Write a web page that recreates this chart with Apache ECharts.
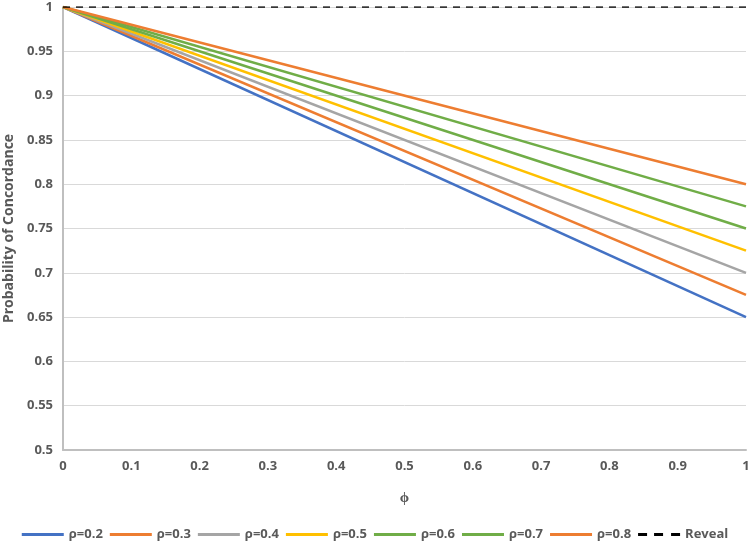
<!DOCTYPE html>
<html><head><meta charset="utf-8">
<script src="https://cdn.jsdelivr.net/npm/echarts@6/dist/echarts.min.js"></script>
<style>html,body{margin:0;padding:0;background:#fff}#c{width:750px;height:546px}</style>
</head><body><div id="c"></div>
<script>
const phi = [0, 1];
const names = ['ρ=0.2','ρ=0.3','ρ=0.4','ρ=0.5','ρ=0.6','ρ=0.7','ρ=0.8','Reveal'];
const values = [
  [1, 0.65],
  [1, 0.675],
  [1, 0.70],
  [1, 0.725],
  [1, 0.75],
  [1, 0.775],
  [1, 0.80],
  [1, 1]
];
const colors = ['#4472C4','#ED7D31','#A5A5A5','#FFC000','#70AD47','#70AD47','#ED7D31','#000000'];

const font = 'Open Sans';
const chart = echarts.init(document.getElementById('c'));
chart.setOption({
  animation: false,
  color: colors,
  grid: {left: 63, right: 4, top: 7, bottom: 96, containLabel: false, outerBoundsMode: 'none'},
  xAxis: {
    type: 'value', min: 0, max: 1, interval: 0.1,
    name: 'ϕ', nameLocation: 'middle', nameGap: 40,
    nameTextStyle: {color: '#595959', fontSize: 15, fontWeight: 'bold', fontFamily: font},
    axisLine: {show: true, lineStyle: {color: '#BFBFBF', width: 2}},
    axisTick: {show: false},
    splitLine: {show: false},
    axisLabel: {color: '#595959', fontSize: 13, fontWeight: 'bold', fontFamily: font, margin: 10,
      formatter: v => String(Math.round(v*10)/10)}
  },
  yAxis: {
    type: 'value', min: 0.5, max: 1, interval: 0.05,
    name: 'Probability of Concordance', nameLocation: 'middle', nameGap: 46,
    nameTextStyle: {color: '#595959', fontSize: 14, fontWeight: 'bold', fontFamily: font},
    axisLine: {show: true, lineStyle: {color: '#BFBFBF', width: 2}},
    axisTick: {show: false},
    splitLine: {show: true, lineStyle: {color: '#D9D9D9', width: 1}},
    axisLabel: {color: '#595959', fontSize: 13, fontWeight: 'bold', fontFamily: font, margin: 10,
      formatter: v => String(Math.round(v*100)/100)}
  },
  legend: {
    bottom: 0, left: 'center', itemWidth: 42, itemHeight: 3, itemGap: 7,
    textStyle: {color: '#595959', fontSize: 13, fontWeight: 'bold', fontFamily: font},
    data: names.map((n, i) => ({
      name: n,
      icon: i === 7 ? 'path://M0,0h9v3h-9z M16,0h9v3h-9z M33,0h9v3h-9z' : 'rect'
    }))
  },
  series: names.map((n, i) => ({
    name: n, type: 'line', symbol: 'none',
    data: phi.map((p, j) => [p, values[i][j]]),
    lineStyle: {width: i === 7 ? 1.5 : 2.5, color: colors[i], type: i === 7 ? [7, 6] : 'solid'},
    itemStyle: {color: colors[i]},
    z: i === 7 ? 10 : 2
  }))
});
</script></body></html>
